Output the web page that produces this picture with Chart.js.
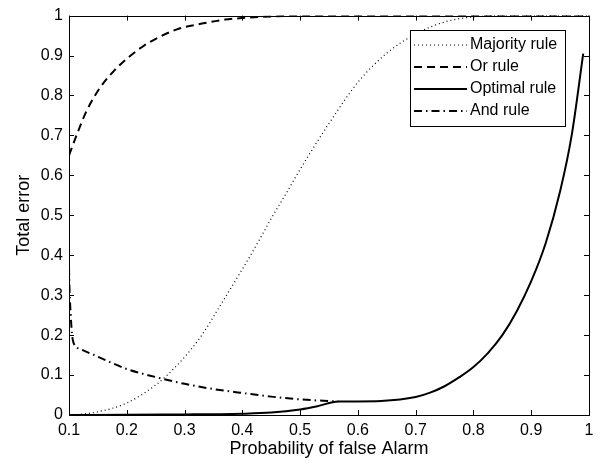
<!DOCTYPE html>
<html>
<head>
<meta charset="utf-8">
<script src="https://cdn.jsdelivr.net/npm/chart.js@4"></script>
<style>
  html, body { margin: 0; padding: 0; background: #fff; }
  #wrap { width: 600px; height: 463px; }
</style>
</head>
<body>
<div id="wrap"><canvas id="chartErr" width="600" height="463"></canvas></div>
<script>
// curves
let majX = [0.1,0.12,0.15,0.2,0.25,0.27,0.3,0.33,0.36,0.4,0.43,0.45,0.48,0.5,0.52,0.55,0.6,0.65,0.7,0.75,0.8,0.85,0.9,1.0];
let majY = [0,0.002,0.008,0.03,0.075,0.1,0.145,0.2,0.27,0.365,0.44,0.492,0.565,0.615,0.662,0.73,0.833,0.906,0.954,0.984,0.997,1,1,1];

let orX = [0.1,0.113,0.13,0.154,0.18,0.2,0.23,0.26,0.29,0.33,0.37,0.4,0.45,0.5,0.6,0.8,1.0];
let orY = [0.65,0.70,0.76,0.82,0.865,0.892,0.925,0.949,0.967,0.98,0.99,0.994,0.998,1,1,1,1];

let optX = [0.1,0.2,0.3,0.35,0.4,0.45,0.5,0.53,0.566,0.6,0.64,0.7,0.725,0.75,0.775,0.8,0.825,0.85,0.875,0.9,0.925,0.95,0.97,0.99];
let optY = [0,0.0005,0.0015,0.002,0.003,0.006,0.014,0.022,0.034,0.034,0.035,0.045,0.056,0.072,0.094,0.12,0.155,0.2,0.26,0.335,0.43,0.56,0.7,0.905];

let andX = [0.1,0.101,0.103,0.105,0.108,0.12,0.142,0.17,0.2,0.25,0.3,0.35,0.4,0.45,0.5,0.55,0.566];
let andY = [0.37,0.31,0.25,0.205,0.18,0.165,0.151,0.133,0.115,0.095,0.078,0.065,0.055,0.046,0.039,0.035,0.034];

let seriesNames = ['Majority rule', 'Or rule', 'Optimal rule', 'And rule'];

function pts(xs, ys) {
  return xs.map(function (x, i) { return { x: x, y: ys[i] }; });
}

var FONT = "'Liberation Sans', Arial, Helvetica, sans-serif";

// MATLAB-like box with inward ticks + legend box
var matlabBox = {
  id: 'matlabBox',
  afterDatasetsDraw: function (chart) {
    var ctx = chart.ctx, a = chart.chartArea;
    var xs = chart.scales.x, ys = chart.scales.y;
    ctx.save();
    ctx.strokeStyle = '#000';
    ctx.lineWidth = 1;
    ctx.beginPath();
    xs.ticks.forEach(function (t) {
      var px = Math.round(xs.getPixelForValue(t.value)) + 0.5;
      ctx.moveTo(px, a.bottom); ctx.lineTo(px, a.bottom - 5);
      ctx.moveTo(px, a.top); ctx.lineTo(px, a.top + 5);
    });
    ys.ticks.forEach(function (t) {
      var py = Math.round(ys.getPixelForValue(t.value)) + 0.5;
      ctx.moveTo(a.left, py); ctx.lineTo(a.left + 5, py);
      ctx.moveTo(a.right, py); ctx.lineTo(a.right - 5, py);
    });
    ctx.stroke();
    ctx.strokeRect(Math.round(a.left) + 0.5, Math.round(a.top) + 0.5,
                   Math.round(a.right - a.left), Math.round(a.bottom - a.top));

    // legend
    var bx = 410.5, by = 30.5, bw = 155, bh = 96;
    ctx.fillStyle = '#fff';
    ctx.fillRect(bx, by, bw, bh);
    ctx.strokeRect(bx, by, bw, bh);
    ctx.font = '16px ' + FONT;
    ctx.textBaseline = 'middle';
    chart.data.datasets.forEach(function (ds, i) {
      var y = 45 + i * 22;
      ctx.save();
      ctx.strokeStyle = ds.borderColor;
      ctx.lineWidth = ds.borderWidth;
      ctx.setLineDash(ds.borderDash || []);
      ctx.beginPath();
      ctx.moveTo(414, y); ctx.lineTo(467, y);
      ctx.stroke();
      ctx.restore();
      ctx.fillStyle = '#000';
      ctx.fillText(ds.label, 470, y);
    });
    ctx.restore();
  }
};

document.addEventListener('DOMContentLoaded', function () {
  var ctx = document.getElementById('chartErr').getContext('2d');

  var data = {
    datasets: [
      { label: seriesNames[0], data: pts(majX, majY), borderColor: '#000', borderWidth: 1.2, borderDash: [1, 3] },
      { label: seriesNames[1], data: pts(orX, orY), borderColor: '#000', borderWidth: 2, borderDash: [8, 5] },
      { label: seriesNames[2], data: pts(optX, optY), borderColor: '#000', borderWidth: 2 },
      { label: seriesNames[3], data: pts(andX, andY), borderColor: '#000', borderWidth: 2, borderDash: [8, 4, 1.5, 4] }
    ]
  };

  var fmt = function (v) { return String(Number(v.toFixed(1))); };

  var options = {
    responsive: false,
    animation: false,
    layout: { padding: { top: 6, right: 11, left: 0, bottom: 0 } },
    elements: {
      point: { radius: 0 },
      line: { cubicInterpolationMode: 'monotone', fill: false }
    },
    plugins: { legend: { display: false }, tooltip: { enabled: false } },
    scales: {
      x: {
        type: 'linear', min: 0.1, max: 1,
        ticks: { stepSize: 0.1, callback: fmt, color: '#000', padding: 6, maxRotation: 0,
                 font: { family: FONT, size: 16 } },
        grid: { display: false, drawTicks: false },
        border: { display: false },
        title: { display: true, text: 'Probability of false Alarm', color: '#000',
                 font: { family: FONT, size: 18 }, padding: { top: 0, bottom: 3 } },
        afterFit: function (s) { s.height = 48; }
      },
      y: {
        type: 'linear', min: 0, max: 1,
        ticks: { stepSize: 0.1, callback: fmt, color: '#000', padding: 6,
                 font: { family: FONT, size: 16 } },
        grid: { display: false, drawTicks: false },
        border: { display: false },
        title: { display: true, text: 'Total error', color: '#000',
                 font: { family: FONT, size: 18 }, padding: { top: 13, bottom: 0 } },
        afterFit: function (s) { s.width = 69; }
      }
    }
  };

  new Chart(ctx, { type: 'line', data: data, options: options, plugins: [matlabBox] });
});
</script>
</body>
</html>
